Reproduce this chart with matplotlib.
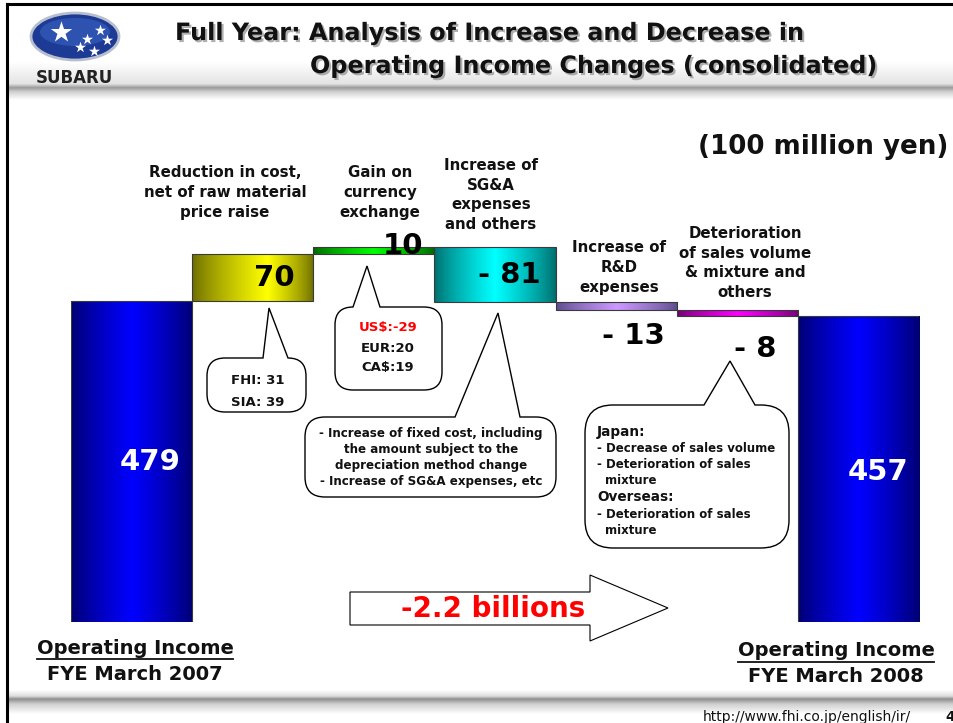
import numpy as np
import matplotlib
matplotlib.use('Agg')
import matplotlib.pyplot as plt
from matplotlib.colors import LinearSegmentedColormap
from matplotlib.path import Path
from matplotlib.patches import PathPatch, Ellipse, Polygon
import matplotlib.patheffects as pe

plt.rcParams['font.family'] = ['DejaVu Sans']
plt.rcParams['font.weight'] = 'bold'

# %% data (100 million yen)
start_value = 479
changes = [70, 10, -81, -13, -8]
end_value = 457
value_labels = ['479', '70', '10', '- 81', '- 13', '- 8', '457']

cat_labels = ['Reduction in cost,\nnet of raw material\nprice raise',
              'Gain on\ncurrency\nexchange',
              'Increase of\nSG&A\nexpenses\nand others',
              'Increase of\nR&D\nexpenses',
              'Deterioration\nof sales volume\n& mixture and\nothers']

currency_items = ['US$:-29', 'EUR:20', 'CA$:19']
cost_items = ['FHI: 31', 'SIA: 39']

# gradient (edge colour, centre colour, peak position)
bar_grad = [('#00006e', '#0000ff', 0.5),
            ('#6b6b00', '#ffff00', 0.62),
            ('#006400', '#00ff00', 0.5),
            ('#006b6b', '#00ffff', 0.5),
            ('#5a4a8a', '#cc99ff', 0.5),
            ('#700070', '#ff00ff', 0.5),
            ('#00006e', '#0000ff', 0.5)]

# %% waterfall geometry
bottoms = [0]
heights = [start_value]
cum = start_value
for c in changes:
    bottoms.append(cum + min(c, 0))
    heights.append(abs(c))
    cum += c
bottoms.append(0)
heights.append(cum)
x = np.arange(len(heights))

W, H = 954, 723
fig = plt.figure(figsize=(W / 100, H / 100), dpi=100)
fig.patch.set_facecolor('white')

px_per_unit = 0.670
ax = fig.add_axes([71 / W, (H - 622) / H, 848 / W, 600 * px_per_unit / H])
ax.axis('off')

bars = ax.bar(x, heights, bottom=bottoms, width=1.0, color='none',
              edgecolor='#3a3a3a', linewidth=0.8, zorder=3)

t = np.linspace(0, 1, 256)
for b, (c_edge, c_mid, peak) in zip(bars, bar_grad):
    cmap = LinearSegmentedColormap.from_list('g', [c_edge, c_mid])
    prof = np.where(t < peak, t / peak, (1 - t) / (1 - peak)) ** 0.8
    x0, y0 = b.get_x(), b.get_y()
    im = ax.imshow(prof[None, :], cmap=cmap, aspect='auto', zorder=2,
                   extent=(x0, x0 + b.get_width(), y0, y0 + b.get_height()),
                   vmin=0, vmax=1)
    im.set_clip_path(b)

ax.set_xlim(-0.5, len(heights) - 0.5)
ax.set_ylim(0, 600)

# value labels: (x offset px, y offset px, colour)
lab_off = [(19, 0, 'white'), (22, 0, 'black'), (29, 5, 'black'), (14, 0, 'black'),
           (17, -30, 'black'), (18, -36, 'black'), (20, -3, 'white')]
for b, lab, (dx, dy, col) in zip(bars, value_labels, lab_off):
    ax.annotate(lab, xy=(b.get_x() + b.get_width() / 2, b.get_y() + b.get_height() / 2),
                xytext=(dx, dy), textcoords='offset pixels', ha='center', va='center',
                fontsize=21, fontweight='bold', color=col, zorder=5)

# %% overlay in pixel coordinates
deco = fig.add_axes([0, 0, 1, 1], zorder=5)
deco.set_xlim(0, W)
deco.set_ylim(H, 0)
deco.axis('off')

# header / footer bands
def band(ys, cols, x0=7, x1=W):
    cm = LinearSegmentedColormap.from_list(
        'b', [((y - ys[0]) / (ys[-1] - ys[0]), c) for y, c in zip(ys, cols)])
    deco.imshow(np.linspace(0, 1, 200)[:, None], cmap=cm, aspect='auto',
                extent=(x0, x1, ys[-1], ys[0]), zorder=0)

band([5, 62, 84, 88, 92, 100], ['#ffffff', '#ffffff', '#e4e4e4', '#9a9a9a', '#d0d0d0', '#ffffff'])
band([690, 696, 699, 704, 714], ['#ffffff', '#dcdcdc', '#8e8e8e', '#cfcfcf', '#ffffff'])
deco.set_xlim(0, W)
deco.set_ylim(H, 0)

deco.plot([7, W], [4, 4], color='black', lw=2.2, zorder=2)
deco.plot([7, 7], [4, H], color='black', lw=2.2, zorder=2)

# logo
deco.add_patch(Ellipse((75, 36.5), 88, 47, facecolor='#1d3b94', edgecolor='#b7bfcf', lw=2, zorder=2))
deco.add_patch(Ellipse((75, 32), 70, 28, facecolor='#3a63c4', edgecolor='none', alpha=0.6, zorder=2))
deco.scatter([61], [32], marker='*', s=260, color='white', zorder=3, linewidths=0)
deco.scatter([100, 87, 107, 80, 94], [30, 39, 40, 47, 51], marker='*', s=70,
             color='white', zorder=3, linewidths=0)
deco.text(74, 78, 'SUBARU', ha='center', va='center', fontsize=12, color='#222222')

# title
shadow = [pe.SimplePatchShadow(offset=(1.5, -1.5), shadow_rgbFace='#9a9a9a', alpha=0.8), pe.Normal()]
deco.text(175, 33, 'Full Year: Analysis of Increase and Decrease in', ha='left', va='center',
          fontsize=17.2, color='#111111', path_effects=shadow)
deco.text(310, 66, 'Operating Income Changes (consolidated)', ha='left', va='center',
          fontsize=17.2, color='#111111', path_effects=shadow)

deco.text(948, 147, '(100 million yen)', ha='right', va='center', fontsize=18.8, color='#111111')

# category captions (centre x, centre y)
cat_pos = [(225, 192.5), (380, 192.5), (491, 195), (619, 267.5), (745, 263)]
for lab, (cx, cy) in zip(cat_labels, cat_pos):
    deco.text(cx, cy, lab, ha='center', va='center', fontsize=10.8, linespacing=1.38,
              color='#111111')


# speech bubbles
def bubble(x0, y0, x1, y1, bl, br, tip, r=18):
    verts = [(br, y0), (x1 - r, y0), (x1, y0), (x1, y0 + r), (x1, y1 - r), (x1, y1),
             (x1 - r, y1), (x0 + r, y1), (x0, y1), (x0, y1 - r), (x0, y0 + r), (x0, y0),
             (x0 + r, y0), (bl, y0), tip, (br, y0)]
    codes = [Path.MOVETO, Path.LINETO, Path.CURVE3, Path.CURVE3, Path.LINETO, Path.CURVE3,
             Path.CURVE3, Path.LINETO, Path.CURVE3, Path.CURVE3, Path.LINETO, Path.CURVE3,
             Path.CURVE3, Path.LINETO, Path.LINETO, Path.CLOSEPOLY]
    deco.add_patch(PathPatch(Path(verts, codes), facecolor='white', edgecolor='black', lw=1.0, zorder=4))


bubble(207, 358, 306, 412, 263, 288, (269, 308))
bubble(335, 307, 442, 390, 353, 380, (367, 266))
bubble(305, 417, 556, 497, 455, 520, (498, 313), r=20)
bubble(585, 405, 789, 548, 704, 755, (730, 361), r=28)

for s, yy in zip(cost_items, [380, 402]):
    deco.text(258, yy, s, ha='center', va='center', fontsize=9.5, color='#111111', zorder=5)
for s, yy, col in zip(currency_items, [328, 348, 367], ['#ff0000', '#111111', '#111111']):
    deco.text(388, yy, s, ha='center', va='center', fontsize=9.5, color=col, zorder=5)

sga_lines = ['- Increase of fixed cost, including', 'the amount subject to the',
             'depreciation method change', '- Increase of SG&A expenses, etc']
for s, yy in zip(sga_lines, [434, 450, 466, 482]):
    deco.text(431, yy, s, ha='center', va='center', fontsize=8.6, color='#111111', zorder=5)

sales_lines = [('Japan:', 597, 432, 9.8), ('- Decrease of sales volume', 597, 448, 8.5),
               ('- Deterioration of sales', 597, 464, 8.5), ('mixture', 605, 480, 8.5),
               ('Overseas:', 597, 497, 9.8), ('- Deterioration of sales', 597, 514, 8.5),
               ('mixture', 605, 530, 8.5)]
for s, xx, yy, fs in sales_lines:
    deco.text(xx, yy, s, ha='left', va='center', fontsize=fs, color='#111111', zorder=5)

# block arrow
deco.add_patch(Polygon([(350, 592), (590, 592), (590, 575), (668, 608), (590, 641),
                        (590, 625), (350, 625)], closed=True, facecolor='white',
                       edgecolor='black', lw=0.8, zorder=4))
deco.text(493, 609, '-2.2 billions', ha='center', va='center', fontsize=20,
          color='#ff0000', zorder=5)

# bottom captions
under = []
for cx, y_top, y_bot, year in [(135, 648, 674, '2007'), (836, 651, 677, '2008')]:
    under.append(deco.text(cx, y_top, 'Operating Income', ha='center', va='center',
                           fontsize=14, color='#111111'))
    deco.text(cx, y_bot, 'FYE March ' + year, ha='center', va='center',
              fontsize=14, color='#111111')

fig.canvas.draw()
inv = deco.transData.inverted()
for tx in under:
    bb = tx.get_window_extent()
    (xa, ya), (xb, yb) = inv.transform([(bb.x0, bb.y0), (bb.x1, bb.y0)])
    deco.plot([xa, xb], [ya + 1, ya + 1], color='#111111', lw=1.3)

# footer
deco.text(807, 717, 'http://www.fhi.co.jp/english/ir/', ha='center', va='center',
          fontsize=10, family='Liberation Sans Narrow', fontweight='normal', color='#111111')
deco.text(950, 717, '4', ha='center', va='center', fontsize=10, color='#111111')

fig.savefig('out.png', dpi=100, facecolor='white')
